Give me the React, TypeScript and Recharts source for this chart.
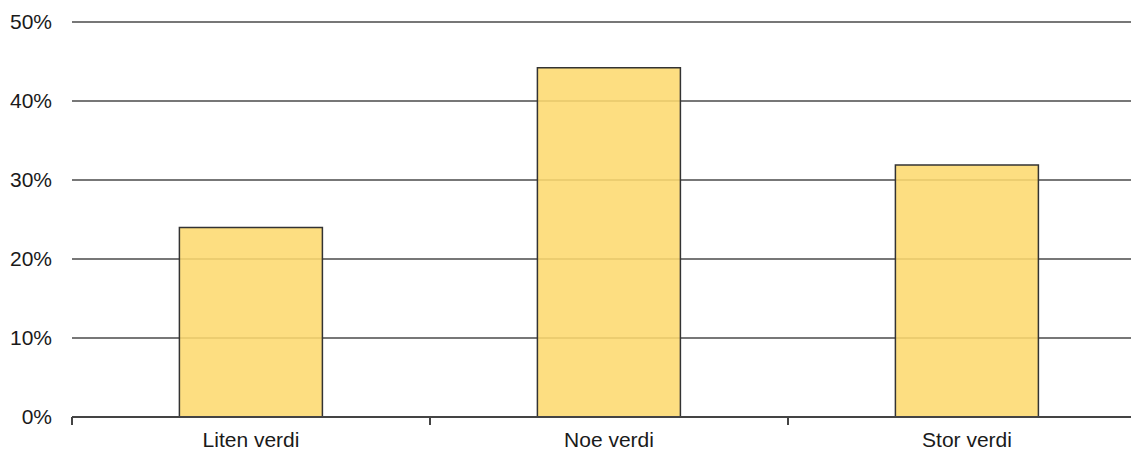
import React from "react";
import { BarChart, Bar, XAxis, YAxis, CartesianGrid } from "recharts";

const categories = ["Liten verdi", "Noe verdi", "Stor verdi"];
const shares = [24.0, 44.2, 31.9];
const yTicks = [0, 10, 20, 30, 40, 50];

const data = categories.map((c, i) => ({ name: c, value: shares[i] }));

const font = "Liberation Sans, Arial, sans-serif";
const X_TICK_MARGIN = 15;
const X_TICK_LEN = 8;

function CategoryTick(props: any) {
  const { x, y, payload, width, visibleTicksCount } = props;
  const band = width / (visibleTicksCount || categories.length);
  const axisY = y - X_TICK_MARGIN;
  const bx = x - band / 2;
  return (
    <g>
      <line x1={bx} x2={bx} y1={axisY} y2={axisY + X_TICK_LEN} stroke="#444" strokeWidth={2} />
      <text x={x} y={y} dy="0.71em" textAnchor="middle" fontSize={21} fill="#1a1a1a" fontFamily={font}>
        {payload.value}
      </text>
    </g>
  );
}

export default function App() {
  return (
    <div style={{ width: 1131, height: 442, overflow: "hidden", fontFamily: font }}>
      <BarChart
        width={1138}
        height={442}
        data={data}
        margin={{ top: 14, right: 0, bottom: 0, left: 0 }}
        barCategoryGap="30%"
      >
        <CartesianGrid vertical={false} stroke="#4a4a4a" strokeWidth={1.4} />
        <XAxis
          dataKey="name"
          height={33}
          tickLine={false}
          axisLine={{ stroke: "#444", strokeWidth: 2 }}
          tickSize={0}
          tickMargin={X_TICK_MARGIN}
          tick={<CategoryTick />}
          interval={0}
        />
        <YAxis
          width={64}
          domain={[0, 50]}
          ticks={yTicks}
          tickFormatter={(v) => `${v}%`}
          axisLine={false}
          tickLine={false}
          tickSize={0}
          tickMargin={20}
          tick={{ fontSize: 21, fill: "#1a1a1a", fontFamily: font }}
        />
        <Bar
          dataKey="value"
          fill="#FDD96F"
          fillOpacity={0.88}
          stroke="#333"
          strokeWidth={1.5}
          isAnimationActive={false}
        />
      </BarChart>
    </div>
  );
}
